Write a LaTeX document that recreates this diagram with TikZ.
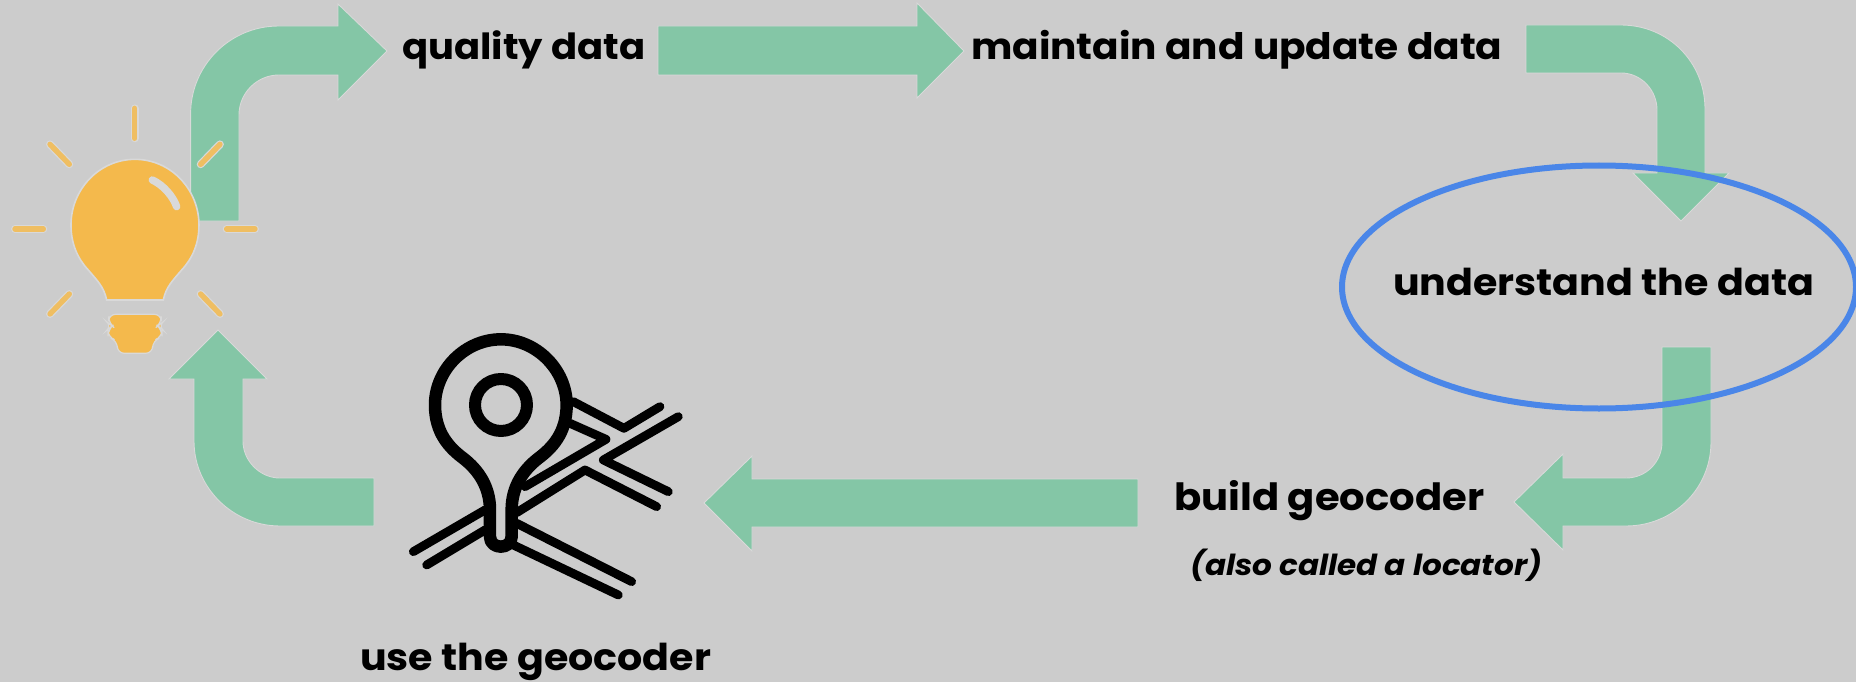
\documentclass[tikz,border=0pt]{standalone}
\usepackage{fontspec}
\setmainfont{Poppins}[FakeStretch=1.07]
\definecolor{bgc}{HTML}{CCCCCC}
\definecolor{arrowgreen}{HTML}{84C6A6}
\definecolor{halo}{HTML}{D9D9D9}
\definecolor{bulbc}{HTML}{F4B94C}
\definecolor{raycolor}{HTML}{EFBE62}
\definecolor{ringblue}{HTML}{4A86E8}
\newcommand{\labsize}[1]{\fontsize{#1}{40}\selectfont\bfseries}
\tikzset{
  arrowshape/.style={fill=arrowgreen,draw=halo,line width=0.9pt,line join=miter},
  lab/.style={anchor=base west,inner sep=0pt,text=black},
  sublab/.style={anchor=base west,inner sep=0pt,font=\fontsize{29}{30}\selectfont\bfseries\itshape,text=black},
  rayhalo/.style={draw=halo,line width=7.8pt,line cap=round},
  raycore/.style={draw=raycolor,line width=5.4pt,line cap=round},
  road/.style={draw=black,line width=8.8pt,line cap=round,line join=round},
  pinline/.style={draw=black,line width=12.5pt,line cap=round,line join=round},
}
\begin{document}
\begin{tikzpicture}[x=1pt,y=-1pt]
\useasboundingbox (0,0) rectangle (1856,682);
\fill[bgc] (0,0) rectangle (1856,682);
% arrows
\draw[arrowshape] (190.6,221) -- (190.6,114) .. controls (190.6,65.4) and (230,26) .. (278.6,26) -- (338,26) -- (338,4) -- (387,51) -- (338,100) -- (338,75) -- (279,75) .. controls (257,75) and (239,93) .. (239,115) -- (239,221) -- cycle;
\draw[arrowshape] (658,26) -- (917,26) -- (917,3) -- (964,51) -- (917,98) -- (917,75) -- (658,75) -- cycle;
\draw[arrowshape] (1526,25) -- (1621,25) .. controls (1668,25) and (1705,62) .. (1705,109) -- (1705,173) -- (1729,173) -- (1681,221) -- (1633,173) -- (1657,173) -- (1657,110) .. controls (1657,90) and (1641,73) .. (1621,73) -- (1526,73) -- cycle;
\draw[arrowshape] (1662,347) -- (1662,442) .. controls (1662,462) and (1646,478) .. (1626,478) -- (1563,478) -- (1563,454) -- (1514,502) -- (1563,550) -- (1563,526) -- (1626,526) .. controls (1673,526) and (1711,489) .. (1711,442) -- (1711,347) -- cycle;
\draw[arrowshape] (1138,479) -- (752,479) -- (752,456) -- (704,503) -- (752,551) -- (752,527) -- (1138,527) -- cycle;
\draw[arrowshape] (374,478) -- (280,478) .. controls (260,478) and (243,461) .. (243,441) -- (243,379) -- (267,379) -- (218,330) -- (169,379) -- (194,379) -- (194,441) .. controls (194,488) and (233,526) .. (280,526) -- (374,526) -- cycle;
% ellipse
\draw[ringblue,line width=6pt] (1599,287) ellipse [x radius=257,y radius=121.5];
% bulb
\begin{scope}[shift={(0,90)},x=0.3333pt,y=-0.3333pt]
  \draw[fill=bulbc,draw=halo,line width=1.6pt] (320,630) .. controls (312,590) and (290,570) .. (265,540) .. controls (232,505) and (213,460) .. (213,405) .. controls (213,298) and (298,208) .. (405,208) .. controls (512,208) and (597,298) .. (597,405) .. controls (597,460) and (578,505) .. (545,540) .. controls (520,570) and (498,590) .. (490,630) -- cycle;
  \draw[draw=halo,line width=7.5pt,line cap=round] (457,270) .. controls (490,285) and (520,320) .. (530,350);
  \draw[fill=bulbc,draw=halo,line width=1.2pt,rounded corners=7pt] (326,673) -- (484,673) -- (484,700) -- (474,708) -- (486,718) -- (486,742) -- (458,752) -- (458,790) -- (352,790) -- (352,752) -- (324,742) -- (324,718) -- (336,708) -- (326,700) -- cycle;
  \foreach \a/\b/\c/\d in {404/55/404/145,150/163/208/223,660/163/602/223,45/417/130/417,680/417/765/417,208/612/150/672,602/612/660/672}{
    \draw[rayhalo] (\a,\b) -- (\c,\d);
    \draw[raycore] (\a,\b) -- (\c,\d);
  }
\end{scope}
% pin and roads
\begin{scope}[shift={(400,320)},x=0.3333pt,y=-0.3333pt]
  \draw[road] (520,245) -- (672,325) -- (780,260);
  \draw[road] (510,310) -- (618,358) -- (375,500);
  \draw[road] (350,578) -- (555,450) -- (770,560);
  \draw[road] (835,290) -- (610,420) -- (805,515);
  \draw[road] (40,695) -- (255,570);
  \draw[road] (80,735) -- (255,630);
  \draw[road] (350,610) -- (695,785);
  \draw[road] (340,675) -- (655,825);
  \fill[bgc] (105,255) .. controls (105,150) and (195,58) .. (303,58) .. controls (410,58) and (500,150) .. (500,255) .. controls (500,340) and (455,385) .. (415,415) .. controls (370,450) and (338,500) .. (338,570) -- (338,650) -- (268,650) -- (268,570) .. controls (268,500) and (235,450) .. (190,415) .. controls (150,385) and (105,340) .. (105,255) -- cycle;
  \draw[pinline] (105,255) .. controls (105,150) and (195,58) .. (303,58) .. controls (410,58) and (500,150) .. (500,255) .. controls (500,340) and (455,385) .. (415,415) .. controls (370,450) and (335,500) .. (335,570) -- (335,650) .. controls (335,690) and (270,690) .. (270,650) -- (270,570) .. controls (270,500) and (235,450) .. (190,415) .. controls (150,385) and (105,340) .. (105,255) -- cycle;
  \draw[pinline,line width=12pt] (303,255) circle [radius=78];
\end{scope}
% labels
\node[lab,font=\labsize{36}] (quality) at (402,60) {quality data};
\node[lab,font=\labsize{36.5}] (maintain) at (971,60) {maintain and update data};
\node[lab,font=\labsize{37}] (understand) at (1393,295) {understand the data};
\node[lab,font=\labsize{37.5}] (build) at (1174,510) {build geocoder};
\node[sublab] (locator) at (1190,575) {(also called a locator)};
\node[lab,font=\labsize{37}] (use) at (360,670) {use the geocoder};
\end{tikzpicture}
\end{document}
